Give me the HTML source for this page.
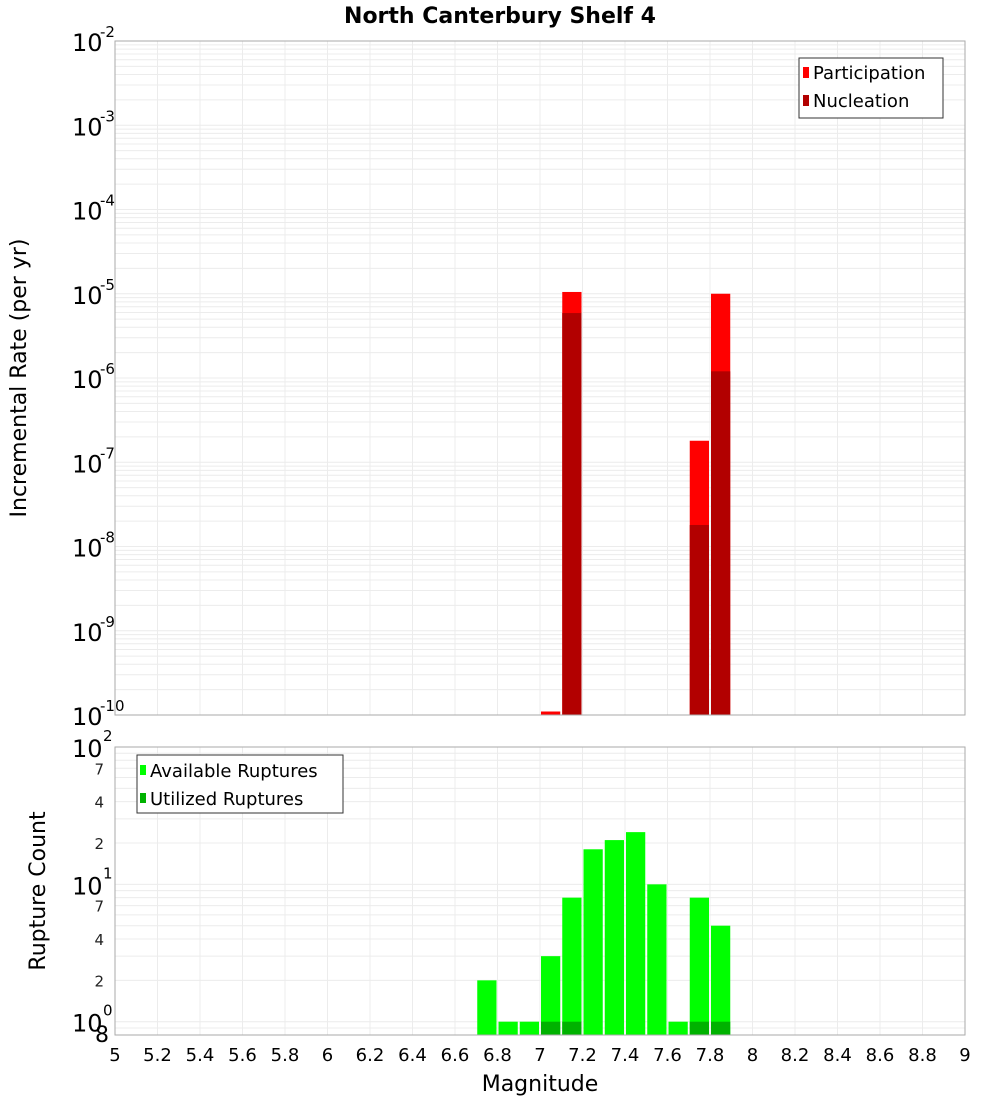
<!DOCTYPE html>
<html><head><meta charset="utf-8"><style>
body{margin:0;background:#fff;font-family:"DejaVu Sans","Liberation Sans",sans-serif}
svg text{font-family:"DejaVu Sans","Liberation Sans",sans-serif}
</style></head><body>
<svg id="c" width="1000" height="1100" xmlns="http://www.w3.org/2000/svg"></svg>
<script>
const binCenters=[6.75,6.85,6.95,7.05,7.15,7.25,7.35,7.45,7.55,7.65,7.75,7.85];
const participation=[0,0,0,1.1e-10,1.05e-5,0,0,0,0,0,1.8e-7,1.0e-5];
const nucleation=[0,0,0,0,5.9e-6,0,0,0,0,0,1.8e-8,1.2e-6];
const available=[2,1,1,3,8,18,21,24,10,1,8,5];
const utilized=[0,0,0,1,1,0,0,0,0,0,1,1];
const xTicks=[5,5.2,5.4,5.6,5.8,6,6.2,6.4,6.6,6.8,7,7.2,7.4,7.6,7.8,8,8.2,8.4,8.6,8.8,9];
const topExps=[-2,-3,-4,-5,-6,-7,-8,-9,-10];

const svg=document.getElementById('c');const NS='http://www.w3.org/2000/svg';
function el(t,a,p){const e=document.createElementNS(NS,t);for(const k in a)e.setAttribute(k,a[k]);(p||svg).appendChild(e);return e;}
const X0=115,X1=965;
const xs=m=>X0+(m-5)/4*(X1-X0);
const T0=41,T1=715;
const yT=v=>T0+(-2-Math.log10(v))/8*(T1-T0);
const B0=747,B1=1035,bl=Math.log10(0.8);
const yB=v=>B0+(2-Math.log10(v))/(2-bl)*(B1-B0);

// title
let t=el('text',{x:500,y:23,'text-anchor':'middle','font-size':22,'font-weight':'bold'});t.textContent='North Canterbury Shelf 4';


// top panel grid
let g=el('g',{});
for(let e=-10;e<-2;e++)for(let k=1;k<10;k++){const y=yT(k*Math.pow(10,e));el('line',{x1:X0,x2:X1,y1:y,y2:y,stroke:'#ececec'},g);}
for(let m=5;m<=9.001;m+=0.2){const x=xs(m);el('line',{x1:x,x2:x,y1:T0,y2:T1,stroke:'#ececec'},g);}
// bottom grid
let g2=el('g',{});
[0.8,0.9,1,2,3,4,5,6,7,8,9,10,20,30,40,50,60,70,80,90].forEach(v=>{const y=yB(v);el('line',{x1:X0,x2:X1,y1:y,y2:y,stroke:'#ececec'},g2);});
for(let m=5;m<=9.001;m+=0.2){const x=xs(m);el('line',{x1:x,x2:x,y1:B0,y2:B1,stroke:'#ececec'},g2);}

// top bars
const bw=xs(0.1)-xs(0)-2;
binCenters.forEach((c,i)=>{
 const x=xs(c-0.05)+1;
 if(participation[i]>0){const y=yT(participation[i]);const r=el('rect',{x:x,y:y,width:bw,height:T1-y,fill:'#ff0000'});
  }
 if(nucleation[i]>0){const y=yT(nucleation[i]);const r=el('rect',{x:x,y:y,width:bw,height:T1-y,fill:'#b20000'});
  }
 if(available[i]>0){const y=yB(available[i]);const r=el('rect',{x:x,y:y,width:bw,height:B1-y,fill:'#00ff00'});
  }
 if(utilized[i]>0){const y=yB(utilized[i]);const r=el('rect',{x:x,y:y,width:bw,height:B1-y,fill:'#00b200'});
  }
});
// frames
let f1=el('rect',{x:X0,y:T0,width:X1-X0,height:T1-T0,fill:'none',stroke:'#aaa'});

let f2=el('rect',{x:X0,y:B0,width:X1-X0,height:B1-B0,fill:'none',stroke:'#aaa'});


// top y ticks
topExps.forEach(e=>{const y=yT(Math.pow(10,e));
 const tt=el('text',{x:72,y:y+10,'font-size':24});tt.textContent='10';
 
 const s=el('text',{x:100,y:y-4,'font-size':15});s.textContent=String(e);
 });
// bottom y ticks
[[100,'2'],[10,'1'],[1,'0']].forEach(([v,e])=>{const y=yB(v);
 const tt=el('text',{x:72,y:y+10,'font-size':24});tt.textContent='10';
 
 const s=el('text',{x:103,y:y-6,'font-size':15});s.textContent=e;
 });
[[70,'7'],[40,'4'],[20,'2'],[7,'7'],[4,'4'],[2,'2']].forEach(([v,l])=>{const y=yB(v);
 const tt=el('text',{x:104,y:y+6,'font-size':15,'text-anchor':'end',fill:'#222'});tt.textContent=l;
 });
let e8=el('text',{x:95,y:1042,'font-size':22});e8.textContent='8';


// x ticks
xTicks.forEach(m=>{const tt=el('text',{x:xs(m),y:1061,'font-size':18,'text-anchor':'middle'});tt.textContent=String(m);
 });
let xl=el('text',{x:540,y:1091,'font-size':22,'text-anchor':'middle'});xl.textContent='Magnitude';

let yl=el('text',{x:0,y:0,'font-size':22,'text-anchor':'middle',transform:'translate(26,378) rotate(-90)'});yl.textContent='Incremental Rate (per yr)';

let yl2=el('text',{x:0,y:0,'font-size':22,'text-anchor':'middle',transform:'translate(45,891) rotate(-90)'});yl2.textContent='Rupture Count';


// legends
let lg=el('g',{});
el('rect',{x:799,y:58,width:144,height:60,fill:'#fff',stroke:'#333'},lg);
el('rect',{x:803,y:67,width:6,height:11,fill:'#ff0000'},lg);
el('rect',{x:803,y:95,width:6,height:11,fill:'#b20000'},lg);
let a=el('text',{x:813,y:79,'font-size':18},lg);a.textContent='Participation';
let b=el('text',{x:813,y:107,'font-size':18},lg);b.textContent='Nucleation';
let lg2=el('g',{});
el('rect',{x:137,y:755,width:206,height:58,fill:'#fff',stroke:'#333'},lg2);
el('rect',{x:140,y:765,width:6,height:10,fill:'#00ff00'},lg2);
el('rect',{x:140,y:793,width:6,height:10,fill:'#00b200'},lg2);
let c1=el('text',{x:150,y:777,'font-size':18},lg2);c1.textContent='Available Ruptures';
let c2=el('text',{x:150,y:805,'font-size':18},lg2);c2.textContent='Utilized Ruptures';
</script>
</body></html>
